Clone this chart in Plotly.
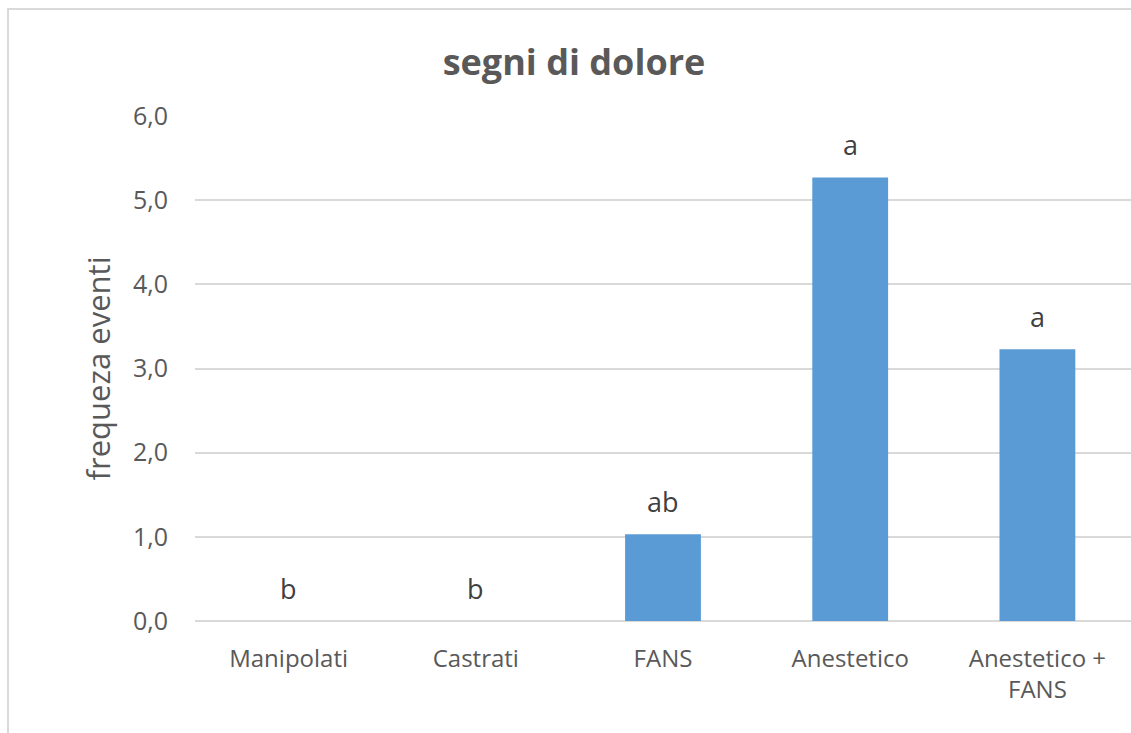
import plotly.graph_objects as go

categories = ["Manipolati", "Castrati", "FANS", "Anestetico", "Anestetico +<br>FANS"]
values = [0.0, 0.0, 1.03, 5.27, 3.23]
letters = ["b", "b", "ab", "a", "a"]
y_ticks = [0, 1, 2, 3, 4, 5, 6]

FONT = "'Open Sans', sans-serif"
GREY = "#595959"

fig = go.Figure()
fig.add_trace(go.Bar(x=categories, y=values, marker_color="#5b9bd5",
                     marker_line_width=0, showlegend=False))

for c, v, t in zip(categories, values, letters):
    fig.add_annotation(x=c, y=v, text=t, showarrow=False, yanchor="bottom",
                       yshift=12, font=dict(family=FONT, size=27, color="#404040"))

W, H = 1131, 733
L, R, T, B = 195, 0, 116, 112
pw, ph = W - L - R, H - T - B
fig.add_shape(type="rect", xref="paper", yref="paper",
              x0=(8 - L) / pw, x1=(W + 20 - L) / pw,
              y0=(H - B - (H + 20)) / ph, y1=(H - B - 9) / ph,
              line=dict(color="#d9d9d9", width=2), fillcolor="rgba(0,0,0,0)", layer="below")

fig.update_layout(
    width=W, height=H,
    margin=dict(l=L, r=R, t=T, b=B, pad=0),
    paper_bgcolor="white", plot_bgcolor="white",
    separators=", ",
    bargap=0.595,
    title=dict(text="<b>segni di dolore</b>", x=574 / W, xanchor="center",
               y=1 - 62 / H, yanchor="middle",
               font=dict(family=FONT, size=36, color=GREY)),
    font=dict(family=FONT, color=GREY),
)
fig.update_xaxes(showgrid=False, showline=False, zeroline=False,
                 tickfont=dict(family=FONT, size=24, color=GREY), ticks="",
                 ticklabelstandoff=21)
fig.update_yaxes(range=[0, 6], tickvals=y_ticks, tickformat=".1f",
                 showgrid=True, gridcolor="#d9d9d9", gridwidth=1.5,
                 zeroline=True, zerolinecolor="#d9d9d9", zerolinewidth=1.5,
                 showline=False, ticks="", ticklabelstandoff=26,
                 tickfont=dict(family=FONT, size=25, color=GREY),
                 title=dict(text="frequeza eventi", standoff=13,
                            font=dict(family=FONT, size=31, color=GREY)))

fig.write_html("out.html")
